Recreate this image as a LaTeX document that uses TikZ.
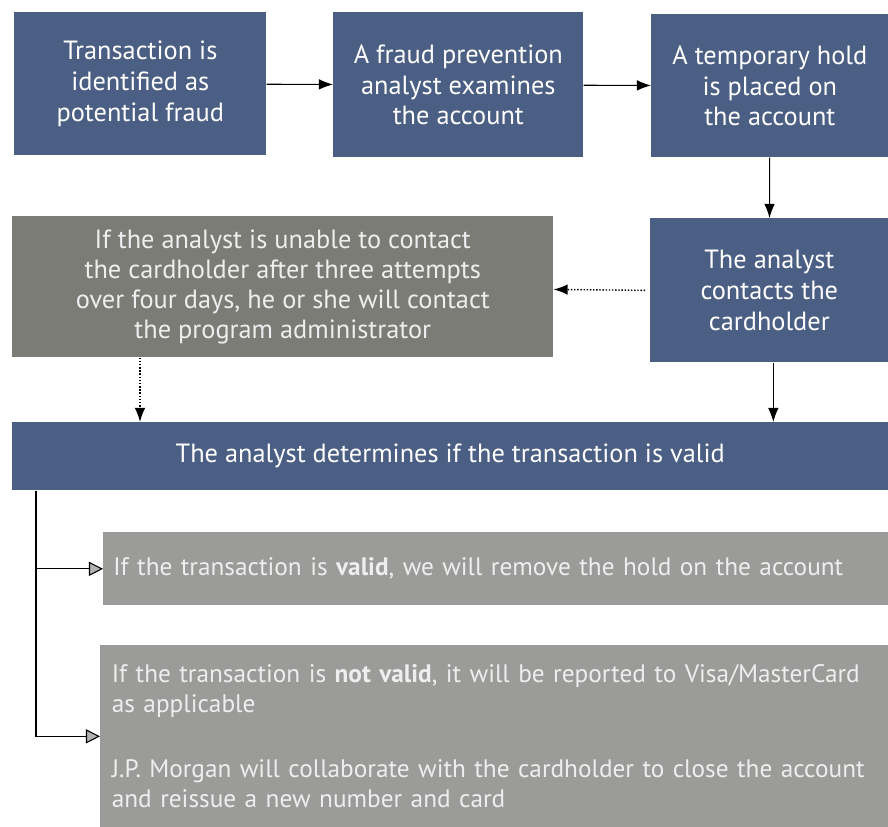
\documentclass[tikz,border=0pt]{standalone}
\usepackage{fontspec}
\setmainfont{PT Sans}
\usetikzlibrary{arrows.meta,positioning,calc}
\definecolor{fraudblue}{HTML}{4B5E83}
\definecolor{darkgrey}{HTML}{7C7C77}
\definecolor{lightgrey}{HTML}{9B9B99}
\definecolor{paletext}{HTML}{EEEEEE}

\begin{document}
\begin{tikzpicture}[x=0.02cm,y=-0.02cm,>={Latex[length=8pt,width=6pt]},
 bluebox/.style={fill=fraudblue,text=white,align=center,anchor=north west,inner sep=4pt,
  font=\fontsize{15}{17.5}\selectfont},
 greybox/.style={fill=darkgrey,text=paletext,align=center,anchor=north west,inner sep=4pt,
  font=\fontsize{15}{17}\selectfont},
 notebox/.style={fill=lightgrey,text=paletext,align=left,anchor=north west,inner sep=4pt,
  font=\fontsize{14.4}{17}\selectfont},
 flow/.style={->,semithick},
 dotflow/.style={->,densely dotted,thick},
 branch/.style={-{Triangle[fill=gray!60,length=8pt,width=8pt]},semithick}]
\useasboundingbox (0,0) rectangle (888,827);
\node[bluebox,minimum width=5.04cm,minimum height=2.86cm] (flag) at (14,12)
 {Transaction is\\identified as\\potential fraud};
\node[bluebox,minimum width=5.0cm,minimum height=2.9cm] (exam) at (333,12)
 {A fraud prevention\\analyst examines\\the account};
\node[bluebox,minimum width=4.74cm,minimum height=2.86cm] (hold) at (651,14)
 {A temporary hold\\is placed on\\the account};
\node[bluebox,minimum width=4.76cm,minimum height=2.88cm] (call) at (650,218)
 {The analyst\\contacts the\\cardholder};
\node[greybox,minimum width=10.82cm,minimum height=2.82cm] (admin) at (12,216)
 {If the analyst is unable to contact\\the cardholder after three attempts\\over four days, he or she will contact\\the program administrator};
\node[bluebox,minimum width=17.52cm,minimum height=1.36cm] (valid) at (12,422)
 {The analyst determines if the transaction is valid};
\node[notebox,minimum width=15.7cm,minimum height=1.46cm,text width=15.3cm] (yes) at (103,532)
 {If the transaction is \textbf{valid}, we will remove the hold on the account};
\node[notebox,minimum width=15.76cm,minimum height=3.64cm,text width=15.3cm] (no) at (100,645)
 {If the transaction is \textbf{not valid}, it will be reported to Visa/MasterCard\\as applicable\\[20pt]
 J.P. Morgan will collaborate with the cardholder to close the account\\and reissue a new number and card};
\draw[flow] (flag)--(exam);\draw[flow](exam)--(hold);\draw[flow](hold)--(call);
\draw[dotflow] ([xshift=-0.1cm]call.west)--(admin);
\draw[dotflow] ([xshift=2.56cm]admin.south west)--([xshift=2.56cm]admin.south west |- valid.north);
\draw[flow] ([xshift=0.08cm]call.south)--([xshift=0.08cm]call.south |- valid.north);
\draw[branch] ([xshift=0.48cm]valid.south west) |- (yes.west);
\draw[branch] ([xshift=0.48cm]valid.south west) |- (no.west);
\end{tikzpicture}
\end{document}
